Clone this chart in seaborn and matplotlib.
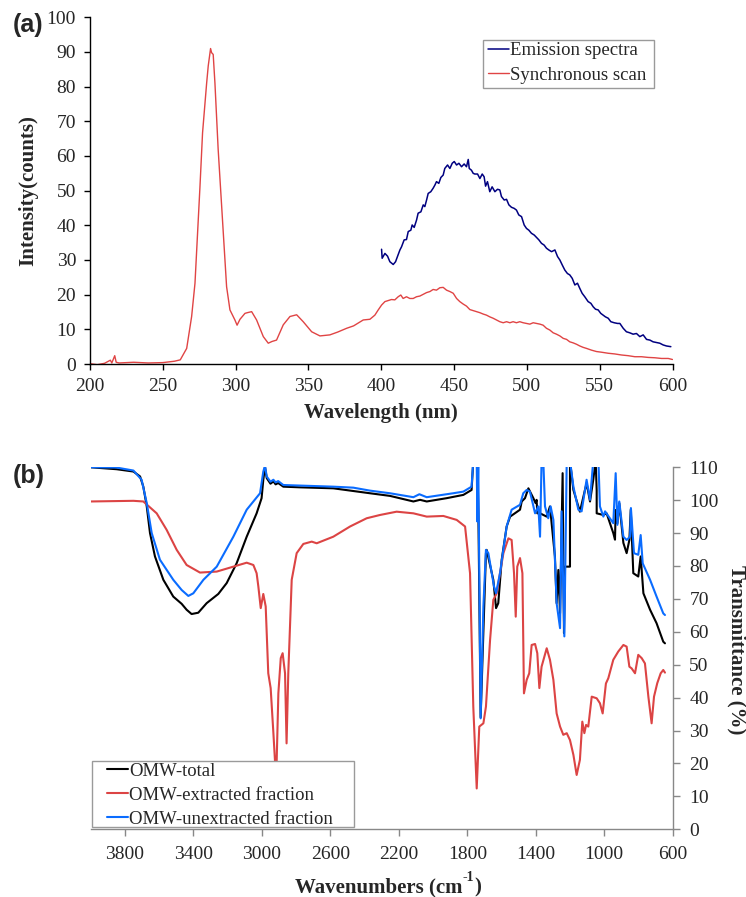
import numpy as np
import pandas as pd
import matplotlib
matplotlib.use("Agg")
import matplotlib.pyplot as plt
from matplotlib.patches import Rectangle
import seaborn as sns

# ---------------- (a) fluorescence data ----------------
sync_nm = [200, 205, 210, 214, 215, 217, 218, 220, 230, 240, 250, 258, 262, 266.4, 269.8, 272.1,
           275.5, 277.3, 280.1, 281.2, 282.8, 283.5, 284.6, 285.8, 288, 291.5, 293.8, 296.1,
           299.5, 301, 303, 306.4, 308, 311, 314.4, 319, 322.4, 325, 328.1, 332.7, 337.3, 341.9,
           346.4, 352.2, 357.9, 364.7, 370, 376.2, 381, 387.6, 392.2,
           395.6, 397.9, 400.2, 402.5, 404.8, 407.0, 409.3, 411.6, 413.4, 415.0, 417.3, 419.6,
           421.9, 424.2, 426.5, 428.8, 431.1, 433.4, 435.6, 437.9, 440.2, 442.5, 444.8, 447.1,
           449.4, 451.7, 453.9, 456.2, 458.5, 460.8, 463.1, 465.4, 467.7, 470, 472.2, 474.5,
           476.8, 479.1, 481.4, 483.7, 486, 488.3, 490.5, 492.8, 495.1, 497.4, 499.7, 502,
           504.3, 506.6, 508.9, 511.1, 513.4, 515.7, 518, 520.3, 522.6, 524.9, 527.2, 529.4,
           531.7, 534, 536.3, 538.6, 540.9, 544.3, 547.7, 551.2, 555.8, 560.3, 564.9, 569.5,
           574.1, 578.6, 583.2, 587.8, 592.4, 597, 599.9]
sync_int = [0.1, -0.2, 0.2, 1.1, 0.3, 2.4, 0.5, 0.3, 0.5, 0.3, 0.4, 0.8, 1.2, 4.5, 13.7, 23.3,
            51, 66.7, 81, 86, 91, 89.8, 89.3, 81, 62, 37.8, 22.3, 15.6,
            12.7, 11.2, 12.9, 14.6, 14.8, 15.1, 12.7, 7.9, 6.0, 6.5, 6.9, 11.3, 13.7, 14.2,
            12.2, 9.3, 8.1, 8.4, 9.2, 10.3, 11.0, 12.7, 12.9,
            14.1, 15.6, 17.0, 18.0, 18.3, 18.6, 18.5, 19.4, 19.9, 18.9, 19.4, 18.9,
            18.9, 19.4, 19.6, 20.1, 20.6, 20.9, 21.5, 21.3, 22.0, 22.1, 21.3, 20.9,
            20.4, 18.9, 18.0, 17.3, 16.7, 15.7, 15.4, 15.1, 14.8, 14.4, 14.1, 13.6,
            13.2, 12.7, 12.2, 11.9, 12.2, 11.9, 12.2, 11.9, 12.2, 11.9, 11.7, 11.5,
            11.9, 11.7, 11.5, 11.2, 10.3, 9.8, 9.0, 8.6, 8.1, 7.4, 7.1, 6.4,
            6.1, 5.7, 5.2, 4.8, 4.5, 4.0, 3.6, 3.4, 3.1, 2.9, 2.6, 2.4,
            2.1, 2.1, 1.9, 1.8, 1.6, 1.6, 1.3]

emis_nm = [400.2, 400.6, 402.5, 404.3, 405.9, 408.2, 409.8, 411.2, 412.8, 413.9, 415.7, 417.3,
           418.5, 420.3, 421.2, 422.6, 424.2, 425.3, 427.2, 428.8, 429.9, 431.1, 432.2, 434,
           435.6, 436.8, 437.9, 439.5, 440.9, 442.5, 443.6, 445.5, 447.1, 448.7, 450.1, 451.7,
           453.3, 455.1, 456.9, 458.5, 459.7, 460.4, 461.9, 463.1, 464.2, 466.1, 467.7, 469.3,
           470.6, 471.6, 472.9, 474.5, 476.1, 478, 479.8, 481.4, 482.5, 484.4, 486, 487.6,
           489.4, 491.2, 492.8, 494.4, 496.3, 498.1, 499.7, 501.3, 503.1, 505, 506.6, 508.2,
           510, 511.8, 513.4, 515, 516.9, 519.2, 521, 522.6, 524.2, 526, 527.8, 529.4, 531.1,
           532.9, 534.7, 536.3, 537.9, 539.7, 542, 543.9, 545.5, 547.1, 548.9, 550.7, 552.3,
           553.9, 555.8, 557.6, 559.9, 562.2, 563.8, 566.1, 568.3, 570.6, 572.9, 575.2, 577.5,
           579.8, 582.1, 584.4, 586.6, 588.9, 591.2, 593.5, 595.8, 598.8]
emis_int = [33.1, 30.5, 31.9, 31.1, 29.5, 28.7, 29.5, 31.1, 32.9, 33.8, 35.8, 35.9,
            38.2, 38.6, 40.1, 39.4, 41.5, 43.5, 43.9, 45.9, 45.4, 47.3, 49.2, 49.7,
            50.7, 51.6, 52.6, 52.1, 53.8, 54.5, 56.4, 57.4, 56.4, 57.9, 58.4, 57.4,
            57.9, 56.9, 57.7, 56.9, 59.0, 56.4, 55.9, 55.0, 54.8, 54.8, 53.5, 54.8,
            54.0, 51.3, 52.6, 49.7, 51.1, 49.7, 50.4, 50.2, 48.3, 47.3, 47.5, 45.9,
            45.2, 44.9, 44.4, 43.0, 42.5, 40.1, 39.1, 38.6, 37.7, 37.2, 36.5, 35.8,
            34.8, 34.3, 33.4, 32.9, 32.4, 32.9, 31.0, 30.0, 28.6, 27.1, 26.1, 25.7, 24.7,
            22.8, 23.3, 21.8, 20.4, 19.4, 18.0, 17.5, 16.5, 15.8, 15.6, 14.6, 14.1,
            13.6, 13.2, 12.2, 11.9, 11.7, 11.7, 10.3, 9.3, 9.0, 8.6, 8.8, 7.9,
            8.4, 7.1, 6.9, 6.4, 6.2, 6.0, 5.5, 5.2, 5.0]

# ---------------- (b) FTIR data ----------------
total_wn = [4004, 3849, 3751, 3712, 3693, 3673, 3654, 3625, 3576, 3518, 3469, 3440, 3411, 3372,
            3323, 3255, 3206, 3148, 3089, 3031, 3002, 2992, 2982, 2972, 2950, 2933, 2920, 2905,
            2875, 2778, 2583, 2369, 2252, 2115, 2076, 2037, 1921, 1823, 1775, 1765, 1741,
            1735, 1722, 1706, 1691, 1687, 1648, 1632, 1619, 1599, 1570, 1550, 1492, 1482,
            1463, 1443, 1414, 1401, 1395, 1391, 1375, 1336, 1317, 1288, 1278, 1268, 1258,
            1243, 1235, 1229, 1200, 1200, 1180, 1142, 1103, 1083, 1064, 1050, 1044, 1044,
            1005, 986, 947, 937, 933, 923, 912, 888, 869, 853, 845, 830, 801, 787, 771,
            732, 694, 655, 645]
total_T = [110, 109.4, 108.7, 107.2, 104.1, 98.1, 90, 82.9, 75.8, 70.7, 68.5, 66.7, 65.4, 65.8,
           68.7, 71.5, 74.8, 80.8, 88.9, 96, 100.6, 106.2, 110, 106.7, 105.0, 105.7, 104.8, 105.2,
           104.1, 103.9, 103.6, 102.1, 101.3, 99.6, 100.1, 99.6, 100.6, 101.6, 103.1, 112, 112,
           95, 34, 60, 83.9, 84.9, 75.8, 67.2, 68.7, 81.9, 92, 95, 97.1, 99.6,
           100.6, 103.6, 100.6, 99.1, 100.1, 96, 96, 95, 98.1, 82.9, 68.7, 78.8, 65.6,
           108.2, 59.6, 79.8, 79.8, 112, 103.1, 96.5, 105.2, 99.6, 106.2, 112, 103, 96,
           95.5, 96, 90, 88, 97, 93, 99.1, 87, 83.9, 87.9, 97.1, 77.8, 76.8, 82.9, 71.7,
           66.7, 62.6, 57, 56.5]

unext_wn = [4004, 3849, 3751, 3703, 3673, 3644, 3596, 3518, 3469, 3430, 3401, 3342, 3264, 3167,
            3089, 3011, 2992, 2982, 2972, 2950, 2933, 2920, 2905, 2875, 2583, 2466, 2369, 2252,
            2115, 2080, 2037, 1882, 1823, 1775, 1765, 1745, 1741, 1736, 1722, 1706, 1691,
            1677, 1644, 1632, 1609, 1570, 1541, 1492, 1473, 1453, 1434, 1404, 1385, 1375,
            1366, 1356, 1346, 1327, 1313, 1297, 1278, 1258, 1249, 1233, 1219, 1200, 1180,
            1151, 1132, 1103, 1083, 1064, 1034, 1025, 1005, 995, 947, 933, 923, 912, 888,
            869, 849, 844, 826, 801, 787, 775, 732, 694, 655, 645]
unext_T = [110, 109.9, 109, 106.2, 99.1, 90, 81.9, 75.8, 72.7, 70.9, 71.7, 75.8, 79.8, 88.9,
           97.1, 102.1, 108.7, 110.5, 107.2, 105.6, 106.2, 105.4, 105.8, 104.6, 104.1, 103.8,
           102.9, 102.1, 100.9, 101.8, 100.9, 102.1, 102.6, 104.1, 112, 112, 93.5, 112, 33.7,
           67.7, 84.9, 83.9, 73.8, 71.7, 77.8, 92, 97.1, 98.6, 102.1, 103.1, 102.6, 96,
           98.1, 88.9, 112, 112, 98.1, 94.5, 98.1, 94, 68.7, 61.1, 96.6, 58.6, 112, 112,
           104.1, 97.1, 96.6, 106.2, 100.1, 112, 112, 98.1, 95, 96.6, 93, 108.2, 92.5, 99.6,
           88.9, 87.9, 88.9, 97.6, 83.9, 83.4, 89.4, 80.8, 75.8, 70.7, 65.6, 65.1]

ext_wn = [4004, 3751, 3693, 3615, 3557, 3498, 3440, 3362, 3264, 3167, 3089, 3050, 3031, 3021,
          3007, 2992, 2978, 2963, 2949, 2933, 2924, 2918, 2904, 2890, 2879, 2865, 2856, 2846,
          2826, 2797, 2758, 2709, 2680, 2583, 2485, 2388, 2310, 2213, 2115, 2037, 1940,
          1862, 1813, 1784, 1765, 1745, 1730, 1706, 1691, 1667, 1648, 1628, 1609, 1589,
          1560, 1541, 1527, 1517, 1508, 1492, 1478, 1469, 1453, 1438, 1424, 1404, 1391,
          1379, 1366, 1336, 1317, 1297, 1278, 1258, 1239, 1219, 1200, 1180, 1161, 1142,
          1128, 1116, 1106, 1093, 1073, 1044, 1025, 1009, 990, 976, 947, 918, 888, 869,
          853, 840, 820, 801, 781, 762, 742, 723, 709, 690, 670, 655, 645]
ext_T = [99.6, 99.8, 99.6, 96, 91, 84.9, 80.3, 78, 78.3, 79.8, 81, 80.3, 77.8, 73.8,
         67.2, 71.5, 67.7, 47.4, 42.9, 29.2, 21.1, 12, 41.3, 52, 53.5, 47.4, 26.1, 47.4,
         75.8, 83.9, 86.7, 87.4, 86.9, 88.9, 92, 94.5, 95.5, 96.5, 96, 95, 95.2,
         94, 92, 77.8, 37.3, 12.4, 31.2, 32.2, 37.3, 57.5, 69.7, 71.7, 77.8, 83.9,
         88.4, 87.9, 77.8, 64.6, 79.8, 82.4, 77.8, 41.3, 45.4, 47.4, 56, 56.3, 53.5,
         42.9, 49.4, 55, 51.5, 45.4, 35.2, 31.2, 28.7, 29.2, 27.1, 22.6, 16.5, 21.1,
         32.7, 29.2, 31.7, 31.2, 40.3, 39.8, 38.3, 35.2, 44.3, 45.9, 51.5, 54, 56, 55.5,
         49.4, 48.9, 47.4, 53, 52, 50.4, 40.3, 32.2, 40.3, 44.4, 47.4, 48.4, 47.6]

sns.set_style("white")
plt.rcParams['font.family'] = ['Liberation Serif', 'DejaVu Serif']

W, H = 746, 897
fig = plt.figure(figsize=(W / 100, H / 100), dpi=100)
renderer = fig.canvas.get_renderer()


def legend_box(ax, x0, y0, w, h):
    # opaque legend frame drawn over the curves
    ax.add_patch(Rectangle((x0, y0), w, h, transform=ax.transAxes, facecolor='white',
                           edgecolor='#9a9a9a', lw=1.0, zorder=4, clip_on=False))


# ---------- panel (a) ----------
ax1 = fig.add_axes([0.1206, 0.5942, 0.781, 0.3865])
sns.lineplot(x=emis_nm, y=emis_int, ax=ax1, color='#000080', lw=1.1, sort=False,
             estimator=None, label='Emission spectra')
sns.lineplot(x=sync_nm, y=sync_int, ax=ax1, color='#e04444', lw=1.0, sort=False,
             estimator=None, label='Synchronous scan')
ax1.set_xlim(200, 600)
ax1.set_ylim(0, 100)
ax1.set_xticks(range(200, 601, 50))
ax1.set_yticks(range(0, 101, 10))
for s in ['top', 'right']:
    ax1.spines[s].set_visible(False)
for s in ['left', 'bottom']:
    ax1.spines[s].set_color('black')
    ax1.spines[s].set_linewidth(1.0)
ax1.tick_params(axis='both', direction='out', length=4, width=1, labelsize=14, pad=6,
                left=True, bottom=True, color='black')
ax1.set_xlabel('Wavelength (nm)', fontsize=15, fontweight='bold', labelpad=6)
ax1.set_ylabel('Intensity(counts)', fontsize=15, fontweight='bold', labelpad=6)
legend_box(ax1, 0.6745, 0.796, 0.2935, 0.1384)
leg1 = ax1.legend(loc='upper left', bbox_to_anchor=(0.683, 0.928), fontsize=13.5,
                  handlelength=1.15, handletextpad=0.05, borderpad=0, labelspacing=0.38,
                  frameon=False, borderaxespad=0)
leg1.set_zorder(5)
fig.text(0.017, 0.972, '(a)', fontsize=18, fontweight='bold', family='Liberation Sans',
         ha='left', va='center')

# ---------- panel (b) ----------
ax2 = fig.add_axes([0.1217, 0.0755, 0.780, 0.4036])
sns.lineplot(x=total_wn, y=total_T, ax=ax2, color='black', lw=1.5, sort=False,
             estimator=None, label='OMW-total')
sns.lineplot(x=ext_wn, y=ext_T, ax=ax2, color='#dc4444', lw=1.5, sort=False,
             estimator=None, label='OMW-extracted fraction')
sns.lineplot(x=unext_wn, y=unext_T, ax=ax2, color='#0a6cff', lw=1.5, sort=False,
             estimator=None, label='OMW-unextracted fraction')
ax2.set_xlim(4000, 600)
ax2.set_ylim(0, 110)
ax2.set_xticks(range(3800, 599, -400))
ax2.set_yticks(range(0, 111, 10))
ax2.yaxis.tick_right()
for s in ['top', 'left']:
    ax2.spines[s].set_visible(False)
for s in ['right', 'bottom']:
    ax2.spines[s].set_color('#888888')
    ax2.spines[s].set_linewidth(1.0)
ax2.tick_params(axis='both', direction='out', length=5, width=1, labelsize=14, pad=7,
                right=True, bottom=True, left=False, color='#888888')
ax2.set_xlabel('')
ax2.set_ylabel('')
legend_box(ax2, 0.0021, 0.0064, 0.4502, 0.1823)
leg2 = ax2.legend(loc='upper left', bbox_to_anchor=(0.0273, 0.184), fontsize=13.5,
                  handlelength=1.15, handletextpad=0.05, borderpad=0, labelspacing=0.36,
                  frameon=False, borderaxespad=0)
leg2.set_zorder(5)
fig.text(0.017, 0.4693, '(b)', fontsize=18, fontweight='bold', family='Liberation Sans',
         ha='left', va='center')

# right-hand axis title
fig.text(0.987, 0.276, 'Transmittance (%)', fontsize=15, fontweight='bold', rotation=270,
         ha='center', va='center')

# x title with a raised "-1"
base_y = 5 / H
t1 = fig.text(295 / W, base_y, 'Wavenumbers (cm', fontsize=15, fontweight='bold',
              ha='left', va='baseline')
bb1 = t1.get_window_extent(renderer)
t2 = fig.text(bb1.x1 / W, base_y + 11 / H, '-1', fontsize=10, fontweight='bold',
              ha='left', va='baseline')
bb2 = t2.get_window_extent(renderer)
fig.text(bb2.x1 / W, base_y, ')', fontsize=15, fontweight='bold', ha='left', va='baseline')

fig.savefig('out.png', dpi=100)
